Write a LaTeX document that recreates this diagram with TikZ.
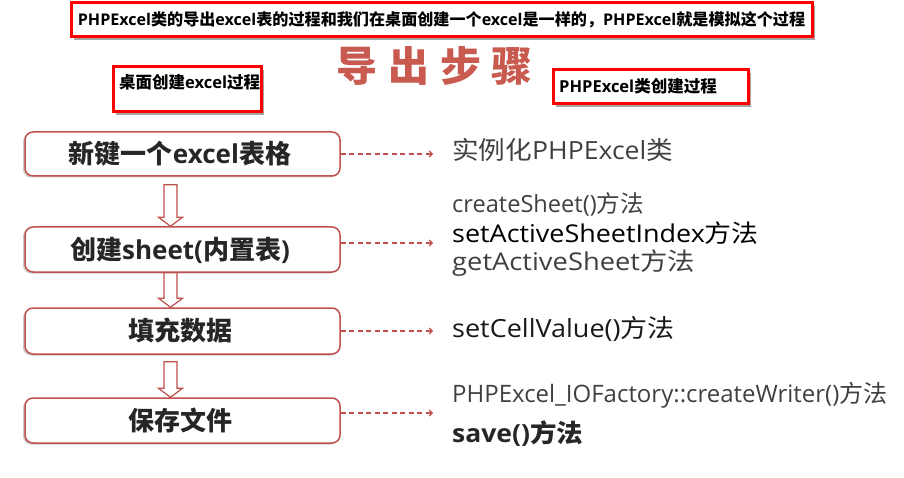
\documentclass[tikz,border=0pt]{standalone}
\usepackage{fontspec}
\usepackage{graphicx}
\setmainfont{Open Sans}
\newfontfamily\cjk{Noto Sans CJK SC}
\newcommand\zh[1]{{\cjk #1}}
\usetikzlibrary{shadows,calc,arrows.meta}
\definecolor{boxred}{HTML}{C0504D}
\definecolor{titlered}{HTML}{C85A4F}
\definecolor{txtgray}{HTML}{404040}
\begin{document}
\begin{tikzpicture}[x=1pt,y=-1pt,
  notebox/.style={draw=red,line width=3pt,fill=white,inner sep=0pt,
    drop shadow={shadow xshift=3pt,shadow yshift=-3pt,opacity=0.5,fill=black!70}},
  stepbox/.style={draw=boxred,line width=1.5pt,rounded corners=8pt,fill=white,
    minimum width=315pt,inner sep=0pt,
    drop shadow={shadow xshift=-2pt,shadow yshift=-1.5pt,opacity=0.35,fill=black!60}},
  steptext/.style={font=\bfseries\fontsize{26}{30}\selectfont,text=black!85},
  desc/.style={anchor=west,inner sep=0pt,text height=19pt,text depth=4pt,
    font=\fontsize{24}{28}\selectfont,text=txtgray},
  titlechar/.style={font=\cjk\bfseries\fontsize{41}{44}\selectfont,text=titlered,inner sep=0pt},
  dasharrow/.style={draw=boxred,line width=1.2pt,dash pattern=on 5pt off 3.5pt,
    -{Straight Barb[length=3pt,width=6pt]}},
  harrow/.style={draw=boxred,line width=1.2pt,fill=white}
]
\useasboundingbox (0,0) rectangle (904,478);

% top notes
\node[notebox,minimum width=741pt,minimum height=34pt] (top) at (441.5,20) {};
\node[inner sep=0pt,font=\bfseries\fontsize{16.1}{20}\selectfont] (toptext) at (top.center)
  {PHPExcel\zh{类的导出}excel\zh{表的过程和我们在桌面创建一个}excel\zh{是一样的，}PHPExcel\zh{就是模拟这个过程}};

\node[notebox,minimum width=148pt,minimum height=45pt] (lbox) at (187,89.5) {};
\node[inner sep=0pt,anchor=west,font=\bfseries\fontsize{16.5}{20}\selectfont] (ltext) at (119,82)
  {\zh{桌面创建}excel\zh{过程}};

\node[notebox,minimum width=195pt,minimum height=34pt] (rbox) at (650.5,87) {};
\node[inner sep=0pt,anchor=west,font=\bfseries\fontsize{16.5}{20}\selectfont] (rtext) at (559,86)
  {PHPExcel\zh{类创建过程}};

% title
\node[titlechar] (c1) at (356.5,66) {导};
\node[titlechar] (c2) at (408.5,66) {出};
\node[titlechar] (c3) at (461,66) {步};
\node[titlechar] (c4) at (511.5,66) {骤};

% step boxes
\node[stepbox,minimum height=44pt] (b1) at (182.5,154) {};
\node[stepbox,minimum height=45pt] (b2) at (182.5,249.5) {};
\node[stepbox,minimum height=46pt] (b3) at (182.5,331) {};
\node[stepbox,minimum height=45pt] (b4) at (182.5,420.5) {};
\node[steptext] (s1) at (180,154) {\zh{新键一个}excel\zh{表格}};
\node[steptext] (s2) at (180,250) {\zh{创建}sheet(\zh{内置表})};
\node[steptext] (s3) at (180,331) {\zh{填充数据}};
\node[steptext] (s4) at (180,420) {\zh{保存文件}};

% hollow arrows
\newcommand\hollowarrow[3]{%
  \draw[harrow] let \p1=($(#1.south)+(-12,#3)$), \p2=($(#2.north)+(-12,0)$) in
    (\x1-6.5pt,\y1) -- (\x1+6.5pt,\y1) -- (\x1+6.5pt,\y2+9pt) -- (\x1+12pt,\y2+9pt)
    -- (\x2,\y2) -- (\x1-12pt,\y2+9pt) -- (\x1-6.5pt,\y2+9pt) -- cycle;}
\hollowarrow{b1}{b2}{8}
\hollowarrow{b2}{b3}{0}
\hollowarrow{b3}{b4}{7}

% right descriptions
\node[desc,font=\fontsize{25}{30}\selectfont] (t1) at (452,152) {\scalebox{1.065}[1]{\zh{实例化}PHPExcel\zh{类}}};
\node[desc,font=\fontsize{23.6}{28}\selectfont] (t2a) at (452,205) {createSheet()\zh{方法}};
\node[desc,font=\fontsize{24.5}{30}\selectfont,text=black] (t2b) at (452,235) {\scalebox{1.1}[1]{setActiveSheetIndex\zh{方法}}};
\node[desc,font=\fontsize{24.5}{30}\selectfont] (t2c) at (452,263) {\scalebox{1.115}[1]{getActiveSheet\zh{方法}}};
\node[desc,font=\fontsize{25}{30}\selectfont,text=black!90] (t3) at (452,330) {\scalebox{1.08}[1]{setCellValue()\zh{方法}}};
\node[desc] (t4a) at (452,395) {PHPExcel\_IOFactory::createWriter()\zh{方法}};
\node[desc,font=\bfseries\fontsize{25}{30}\selectfont,text=black!85] (t4b) at (452,435) {\scalebox{1.06}[1]{save()\zh{方法}}};

% dashed connectors
\coordinate (ex) at (433,0);
\draw[dasharrow] (b1.east) -- (b1.east -| ex);
\draw[dasharrow] ($(b2.east)+(0,-6.5)$) -- ($(b2.east -| ex)+(0,-6.5)$);
\draw[dasharrow] (b3.east) -- (b3.east -| ex);
\draw[dasharrow] ($(b4.east)+(0,-7.5)$) -- ($(b4.east -| ex)+(0,-7.5)$);
\end{tikzpicture}
\end{document}
